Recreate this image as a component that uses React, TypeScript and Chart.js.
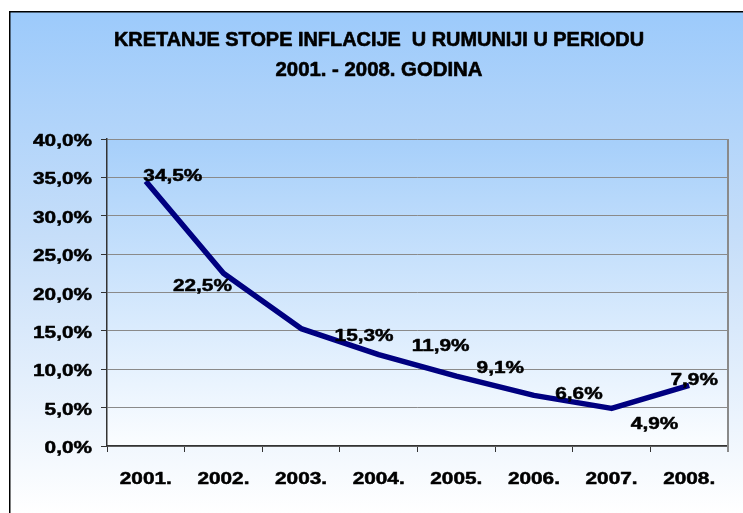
import React, { useEffect, useRef } from "react";
import { Chart, registerables } from "chart.js";

Chart.register(...registerables);

const categories = ["2001.", "2002.", "2003.", "2004.", "2005.", "2006.", "2007.", "2008."];
const inflation = [34.5, 22.5, 15.3, 11.9, 9.1, 6.6, 4.9, 7.9];
const titleLines = ["KRETANJE STOPE INFLACIJE  U RUMUNIJI U PERIODU", "2001. - 2008. GODINA"];
const yMin = 0;
const yMax = 40;
const yStep = 5;
// label placement offsets (style, px) relative to each point
const labelOffsets: [number, number][] = [
  [27, -6], [-21, 12], [63, 6], [62, -10], [44, -9], [45, -2], [43, 15], [5, -6],
];

const FONT = "'Liberation Sans', Arial, sans-serif";
const LABEL_FONT = `bold 16.5px ${FONT}`;
const STRETCH = 1.26;
const fmt = (v: number, d: number) => v.toFixed(d).replace(".", ",") + "%";

function drawText(ctx: any, t: string, x: number, y: number, align: "left" | "center" | "right", sx: number, heavy = 0.5) {
  ctx.save();
  ctx.translate(x, y);
  ctx.scale(sx, 1);
  ctx.textAlign = align;
  ctx.textBaseline = "alphabetic";
  ctx.fillText(t, 0, 0);
  if (heavy > 0) {
    ctx.lineWidth = heavy;
    ctx.strokeStyle = ctx.fillStyle;
    ctx.lineJoin = "round";
    ctx.strokeText(t, 0, 0);
  }
  ctx.restore();
}

const decorPlugin = {
  id: "decor",
  beforeDraw(chart: any) {
    const { ctx, chartArea: a, width, height } = chart;
    ctx.save();
    const g = ctx.createLinearGradient(0, 11, 0, height);
    g.addColorStop(0, "#9ccafb");
    g.addColorStop(0.45, "#c6def9");
    g.addColorStop(1, "#ffffff");
    ctx.fillStyle = g;
    ctx.fillRect(9, 11, width - 9, height - 11);
    ctx.strokeStyle = "#000000";
    ctx.lineWidth = 1.5;
    ctx.beginPath();
    ctx.moveTo(9.75, height);
    ctx.lineTo(9.75, 11.75);
    ctx.lineTo(width, 11.75);
    ctx.stroke();
    const pg = ctx.createLinearGradient(0, a.top, 0, a.bottom);
    pg.addColorStop(0, "#a6cffa");
    pg.addColorStop(1, "#fbfdff");
    ctx.fillStyle = pg;
    ctx.fillRect(a.left, a.top, a.right - a.left, a.bottom - a.top);
    // title
    ctx.fillStyle = "#000000";
    ctx.font = `bold 19.5px ${FONT}`;
    const targets = [[530, 46], [207, 76]];
    titleLines.forEach((t, i) => {
      const w = ctx.measureText(t).width;
      drawText(ctx, t, 379, targets[i][1], "center", targets[i][0] / w, 0.6);
    });
    ctx.restore();
  },
  afterDraw(chart: any) {
    const { ctx, chartArea: a, scales } = chart;
    ctx.save();
    ctx.strokeStyle = "#8a8a8a";
    ctx.lineWidth = 2;
    ctx.beginPath();
    ctx.moveTo(a.right, a.top);
    ctx.lineTo(a.right, a.bottom + 6);
    ctx.stroke();
    ctx.fillStyle = "#000000";
    ctx.font = LABEL_FONT;
    for (let v = yMin; v <= yMax; v += yStep) {
      const y = scales.y.getPixelForValue(v);
      drawText(ctx, fmt(v, 1), 92, y + 7, "right", STRETCH);
    }
    categories.forEach((c, i) => {
      const x = scales.x.getPixelForValue(i);
      drawText(ctx, c, x, 483.5, "center", STRETCH);
    });
    ctx.restore();
  },
  afterDatasetsDraw(chart: any) {
    const { ctx } = chart;
    const meta = chart.getDatasetMeta(0);
    ctx.save();
    ctx.fillStyle = "#000000";
    ctx.font = LABEL_FONT;
    meta.data.forEach((pt: any, i: number) => {
      const [dx, dy] = labelOffsets[i];
      drawText(ctx, fmt(inflation[i], 1), pt.x + dx, pt.y + dy + 6, "center", STRETCH);
    });
    ctx.restore();
  },
};

export default function App() {
  const ref = useRef<HTMLCanvasElement>(null);
  useEffect(() => {
    document.body.style.margin = "0";
    const chart = new Chart(ref.current!, {
      type: "line",
      data: {
        labels: categories,
        datasets: [
          {
            data: inflation,
            borderColor: "#000080",
            borderWidth: 5.5,
            pointRadius: 0,
            tension: 0,
            borderJoinStyle: "round",
            borderCapStyle: "butt",
            fill: false,
          },
        ],
      },
      options: {
        animation: false,
        responsive: false,
        layout: { padding: { left: 0, top: 139, right: 15, bottom: 0 } },
        plugins: { legend: { display: false }, tooltip: { enabled: false }, title: { display: false } },
        scales: {
          x: {
            offset: true,
            grid: { drawOnChartArea: false, drawTicks: true, tickLength: 6, color: "#333333", offset: true },
            border: { color: "#333333", width: 1.5 },
            ticks: { display: false },
            afterFit: (s: any) => { s.height = 67; },
          },
          y: {
            min: yMin,
            max: yMax,
            grid: { color: "#8a8a8a", lineWidth: 1, tickLength: 6, tickColor: "#333333" },
            border: { color: "#333333", width: 1.5 },
            ticks: { stepSize: yStep, display: false },
            afterFit: (s: any) => { s.width = 107; },
          },
        },
      },
      plugins: [decorPlugin],
    } as any);
    return () => chart.destroy();
  }, []);
  return <canvas ref={ref} width={743} height={513} style={{ display: "block" }} />;
}
